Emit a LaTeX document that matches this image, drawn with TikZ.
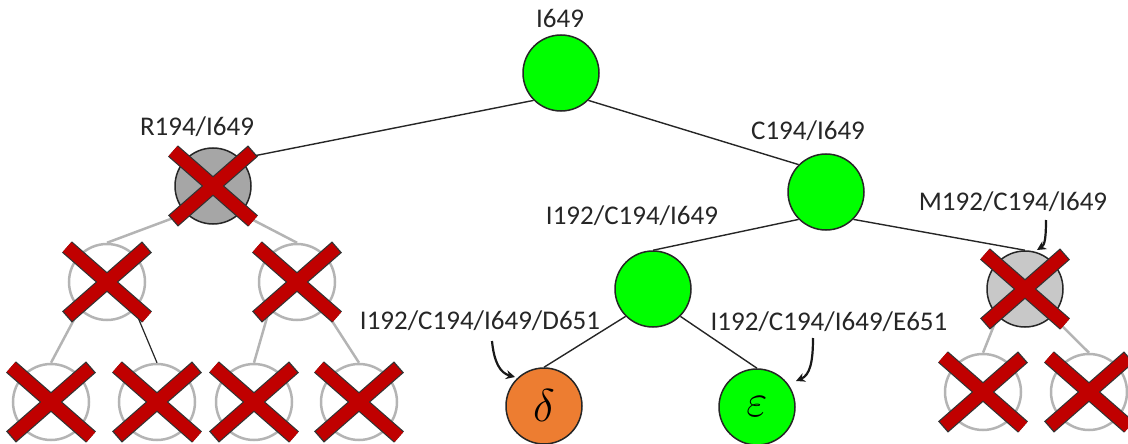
\RequirePackage{fix-cm}
\documentclass[tikz,border=0pt]{standalone}
\usepackage{fontspec}
\setmainfont{Carlito}
\usetikzlibrary{arrows.meta}
\definecolor{lgreen}{HTML}{00FF00}
\definecolor{dorange}{HTML}{ED7D31}
\definecolor{deadgray}{HTML}{A6A6A6}
\definecolor{deadlight}{HTML}{C8C8C8}
\definecolor{ghostgray}{HTML}{B4B4B4}
\definecolor{xred}{HTML}{C00000}
\newcommand{\killx}[1]{%
  \begin{scope}[shift={(#1)}]
    \draw[line width=15, black!80] (-40,-35) -- (40,35) (-40,35) -- (40,-35);
    \draw[line width=12.6, xred, shorten <=1.3, shorten >=1.3] (-40,-35) -- (40,35) (-40,35) -- (40,-35);
  \end{scope}}
\begin{document}
\begin{tikzpicture}[x=1pt,y=-1pt,
  lbl/.style={font=\fontsize{27}{30}\selectfont, text=black!85, inner sep=0},
  base/.style={circle, inner sep=0, minimum size=76},
  live/.style={base, draw=black!85, line width=1.5, fill=lgreen},
  leaf/.style={base, draw=black!85, line width=1.5, fill=#1},
  dead/.style={base, draw=black!85, line width=1.5, fill=#1},
  ghost/.style={base, draw=ghostgray, line width=2.5},
  edge/.style={line width=1.4, black!85},
  gedge/.style={line width=2.5, ghostgray},
  tag/.style={line width=2.2, black!90, -{Stealth[length=9, width=9]}},
  greek/.style={font=\fontsize{46}{46}\selectfont}]
\path[use as bounding box] (0,0) rectangle (1128,444);

% nodes
\node[live] (root) at (561,73) {};
\node[dead=deadgray] (r194) at (213,186) {};
\node[live] (c194) at (826,192) {};
\node[live] (i192) at (653,289) {};
\node[dead=deadlight] (m192) at (1025,289) {};
\node[leaf=dorange, greek] (d651) at (544,406) {$\delta$};
\node[live, greek] (e651) at (757,407) {$\varepsilon$};
\node[ghost] (l1) at (107,282) {};
\node[ghost] (l2) at (297,282) {};
\node[ghost] (b1) at (51,402) {};
\node[ghost] (b2) at (157,402) {};
\node[ghost] (b3) at (254,402) {};
\node[ghost] (b4) at (359,402) {};
\node[ghost] (br1) at (983,392) {};
\node[ghost] (br2) at (1089,392) {};

% labels
\node[lbl] (troot) at (560,18) {I649};
\node[lbl] (tr194) at (197,127) {R194/I649};
\node[lbl] (tc194) at (808,131) {C194/I649};
\node[lbl] (ti192) at (632,216) {I192/C194/I649};
\node[lbl] (tm192) at (1013,202) {M192/C194/I649};
\node[lbl] (td651) at (480,321) {I192/C194/I649/D651};
\node[lbl] (te651) at (829,322) {I192/C194/I649/E651};

% edges
\draw[edge] (root.south west) -- (r194.north east);
\draw[edge] (root.south east) -- (c194.north west);
\draw[edge] (c194.south west) -- (i192.north);
\draw[edge] (c194.south east) -- (m192.north);
\draw[edge] (i192.south west) -- (d651.north);
\draw[edge] (i192.south east) -- (e651.north);
\draw[gedge] (r194.south west) -- (l1.north);
\draw[gedge] (r194.south east) -- (l2.north);
\draw[gedge] (l1.south west) -- (b1.north);
\draw[edge, line width=1.2] (l1.south east) -- (b2.north);
\draw[gedge] (l2.south west) -- (b3.north);
\draw[gedge] (l2.south east) -- (b4.north);
\draw[gedge] (m192.south west) -- (br1.north);
\draw[gedge] (m192.south east) -- (br2.north);

% label arrows
\coordinate (ad0) at (492,341);
\coordinate (ad1) at (515,377);
\draw[tag] (ad0) .. controls (494,362) and (500,373) .. (ad1);
\coordinate (ae0) at (813,338);
\coordinate (ae1) at (796,381);
\draw[tag] (ae0) .. controls (813,362) and (810,375) .. (ae1);
\coordinate (am0) at (1046,220);
\coordinate (am1) at (1037,250);
\draw[tag] (am0) .. controls (1046,236) and (1045,245) .. (am1);

% crosses
\killx{r194}
\killx{m192}
\killx{l1}
\killx{l2}
\killx{b1}
\killx{b2}
\killx{b3}
\killx{b4}
\killx{br1}
\killx{br2}
\end{tikzpicture}
\end{document}
